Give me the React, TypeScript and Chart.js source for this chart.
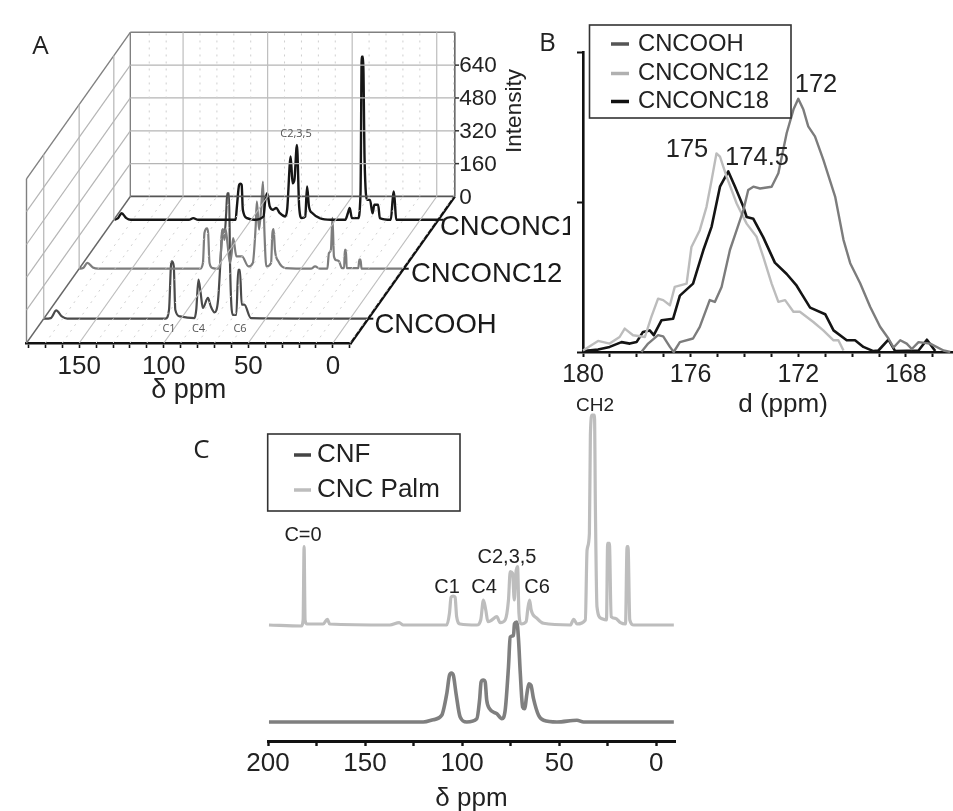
import React, { useEffect, useRef } from "react";
import { Chart, registerables } from "chart.js";
Chart.register(...registerables);

const FONT = "'Liberation Sans', Arial, sans-serif";
const PANEL_FONT = "'Open Sans', sans-serif";

// ---------- Panel A ----------
const aMajorPpm = [150, 100, 50, 0];
const aMinorPpm = [170, 160, 140, 130, 120, 110, 90, 80, 70, 60, 40, 30, 20, 10, -10];
const aIntensityTicks = [0, 160, 320, 480, 640];
const aCooh = [[181.3,0],[177,3],[173.8,40],[170.5,11],[167.3,0],[109.2,0],[107.1,44],[106,255],[105.4,279],[104.3,255],[103.4,44],[100.6,11],[92,3],[91,44],[89.7,190],[88.4,125],[87.1,52],[84.1,101],[82.4,60],[80.2,31],[78.1,92],[76.3,336],[75.5,433],[74.2,417],[73.3,514],[72.7,611],[71.6,611],[71,255],[69.5,19],[67.3,19],[66.2,238],[65.2,238],[64.1,68],[62.6,68],[58.7,3],[-10,0]];
const aC12 = [[181,0],[178.9,3],[176.3,28],[173.1,6],[169.9,0],[109.7,0],[108,28],[107.1,174],[105.6,197],[104.9,174],[104.1,28],[102.2,3],[98.9,0],[97.6,44],[96.8,174],[96.1,193],[95.3,141],[94.6,193],[93.5,125],[92,28],[91,76],[90.1,149],[88.2,60],[84.9,60],[81.1,11],[78.5,28],[76.8,206],[76.1,328],[74.8,190],[73.5,303],[72.5,425],[71.6,174],[70.5,11],[67.7,28],[66.9,174],[66.2,193],[65.4,92],[63.4,36],[59.1,3],[44.1,0],[41.7,11],[38.7,0],[34.4,0],[33.5,76],[32.3,92],[31.4,248],[30.5,60],[29,41],[27.5,36],[25.8,3],[24.5,3],[24.1,92],[23.4,92],[23,3],[16.1,3],[15.5,44],[14.8,44],[14.2,0],[-9.9,0]];
const aC18 = [[180.9,0],[178.7,8],[176.6,32],[173.8,8],[171.2,0],[136.8,0],[134.2,8],[131.4,0],[109.2,0],[108.4,65],[107.1,170],[106.3,176],[105.6,170],[104.9,49],[102.4,8],[98.1,0],[92.7,16],[91.6,97],[90.5,130],[89,65],[87.3,49],[85.2,57],[83,32],[79.8,16],[78.7,49],[76.6,308],[75.5,178],[74.4,195],[72.9,365],[71.6,65],[70.1,8],[68,16],[66.9,162],[65.8,65],[63.7,32],[59.4,8],[52.9,0],[44.3,0],[42.8,32],[41.7,57],[40.4,8],[36.8,8],[35.3,130],[34.6,795],[33.8,795],[32.9,292],[31.4,97],[29.7,97],[28.2,32],[27.1,73],[24.9,73],[23.9,8],[17.4,0],[16.3,97],[15.7,138],[15.1,97],[14.2,0],[-10.5,0]];
const aSeriesNames = ["CNCOOH", "CNCONC12", "CNCONC1"];

// ---------- Panel B ----------
const bXTicks = [180, 176, 172, 168];
const bCooh = [[177.83,0],[177.58,2.8],[177.21,5.6],[177.02,5.2],[176.77,1.7],[176.63,0],[176.4,3.3],[175.91,4.5],[175.66,8.4],[175.29,17.3],[175.1,16.7],[174.85,21.7],[174.54,34],[174.29,40.6],[174.04,47.3],[173.86,54],[173.67,55.1],[173.42,54.5],[172.99,55.1],[172.74,59.6],[172.43,73],[172.18,80.8],[172,84.4],[171.81,80.8],[171.63,75.2],[171.38,71.9],[171.07,64.1],[170.63,51.8],[170.32,37.4],[170.07,29.6],[169.7,22.9],[169.33,15.1],[168.96,8.4],[168.65,4.5],[168.46,1.5],[168.21,3.9],[167.97,2.8],[167.78,1],[167.53,3.3],[167.1,2.8],[166.6,0.5],[166.35,0]];
const bC12 = [[180,0.5],[179.44,3.7],[179.01,2.8],[178.64,5],[178.45,7.8],[178.14,5.6],[177.7,5],[177.46,11.7],[177.21,17.8],[177.02,17.3],[176.77,15.6],[176.59,21.7],[176.15,22.8],[175.97,35],[175.66,40.6],[175.41,48.4],[175.22,57.3],[175.04,66.2],[174.91,65.1],[174.66,58.4],[174.29,49.5],[173.92,42.8],[173.55,38.4],[173.3,31.7],[172.99,22.8],[172.74,16.7],[172.49,17.3],[172.18,13.4],[171.94,13.4],[171.44,10],[171.07,7.2],[170.69,3.9],[170.51,3.9],[170.32,0.5]];
const bC18 = [[180,0.3],[179.44,0.8],[179.01,1.7],[178.57,3.3],[178.26,2.8],[178.01,3.3],[177.77,6.7],[177.52,7.2],[177.37,5.6],[177.08,10.6],[176.65,11.1],[176.4,18.8],[175.91,22.8],[175.53,33.9],[175.22,41.8],[174.91,55.1],[174.6,60.2],[174.35,55.1],[174.04,48.4],[173.92,45],[173.67,44.4],[173.3,38.2],[172.87,29.8],[172.43,26],[172.06,22.1],[171.87,19.3],[171.56,14.8],[171,12.6],[170.69,7.2],[170.2,3.9],[169.89,3.9],[169.58,1.7],[169.21,0.3],[169.02,0.5],[168.65,4.1],[168.4,0.3],[167.53,0.5],[167.22,4.1],[166.91,0.3]];
const bLegend = ["CNCOOH", "CNCONC12", "CNCONC18"];

// ---------- Panel C ----------
const cCnf = [[199.5,0],[120,0],[114.8,2.3],[110.5,6.7],[107.9,28.3],[106.5,46.7],[105.5,49],[104.5,46.7],[103.1,28.3],[101,5],[97.6,0],[92.4,3.3],[91,21.7],[90.2,40],[89.1,42],[88.1,40],[87.3,21.7],[85.9,13.3],[82.1,8.3],[79.5,3.3],[77.8,11.7],[76.1,55],[75.2,85],[73.5,86.7],[73,98.3],[71.8,100],[70.9,81.7],[70,48.3],[68.8,15],[67.8,13.3],[66.6,28.3],[65.6,38.3],[64.5,36.7],[63.2,23.3],[60.6,6.7],[58,1.7],[51.1,0],[40.8,1.7],[37.4,0],[-9.1,0]];
const cPalm = [[199.5,0],[182.8,-1],[181.9,5],[181.4,78.3],[180.9,5],[179.9,1],[171.6,1],[169.4,5.7],[168.2,1],[137.2,0],[132.4,2.3],[130.3,0],[107.9,0],[106.5,11.7],[105.7,27.7],[104.6,29],[103.6,27.7],[102.8,8.3],[101,1],[92.4,0],[90.4,5],[89,25],[87.8,15],[86.7,3.3],[84.7,5],[82.1,8.3],[80.4,2.3],[77.8,5],[76.1,25],[75.2,53.3],[74,51.7],[73.1,25],[72.3,51.7],[71.4,58.3],[70.7,11.7],[69.5,1],[67,3.3],[66.1,16.7],[65.2,25],[64.4,15],[61.4,6.7],[58,1.7],[44.2,0],[42.5,5.7],[40.8,1],[36.5,5],[35.6,75],[34.4,91.7],[33.9,190],[33,210],[31.8,210],[31.3,115],[30.5,18.3],[28.4,6.7],[25.6,5],[25,81.7],[24.1,81.7],[23.2,8.3],[21,6.7],[18.4,2.3],[15.8,1],[15,78.3],[14.5,78.3],[13.6,5],[11.5,0],[-9.1,0]];
const cLegend = ["CNF", "CNC Palm"];
const cXTicks = [200, 150, 100, 50, 0];

// Depth placement of the waterfall panel
const DEPTH_PPM = 61.4;
const DEPTH_INT = 714;
const A_LEFT = 181.2, A_RIGHT = -10.7, A_TOP = 800;
const DEPTHS = [0.166, 0.507, 0.841];
const PALM_OFFSET = 97;

const proj = (ppm: number, d: number, i: number) => ({ x: ppm - DEPTH_PPM * d, y: i + DEPTH_INT * d });
const seg = (a: any, b: any) => {
  const [p, q] = a.x >= b.x ? [a, b] : [b, a];
  return [p, { x: q.x === p.x ? q.x - 1e-6 : q.x, y: q.y }];
};
const lineDs = (data: any[], color: string, width: number, dash?: number[], smooth?: boolean) => ({
  data, borderColor: color, borderWidth: width, borderDash: dash || [], pointRadius: 0, tension: 0, clip: false as any,
  borderJoinStyle: "round" as any,
  cubicInterpolationMode: smooth ? ("monotone" as any) : ("default" as any),
});
const pairs = (arr: number[][]) => arr.map(([x, y]) => ({ x, y }));

function txt(ctx: any, s: string, x: number, y: number, font: string, color = "#222", align = "center", rot = 0) {
  ctx.save();
  ctx.translate(x, y);
  if (rot) ctx.rotate(rot);
  ctx.font = font;
  ctx.fillStyle = color;
  ctx.textAlign = align;
  ctx.textBaseline = "middle";
  ctx.fillText(s, 0, 0);
  ctx.restore();
}
function legendBox(ctx: any, x0: number, y0: number, w: number, h: number) {
  ctx.save();
  ctx.fillStyle = "#fff";
  ctx.strokeStyle = "#333";
  ctx.lineWidth = 1.6;
  ctx.fillRect(x0, y0, w, h);
  ctx.strokeRect(x0, y0, w, h);
  ctx.restore();
}
function sample(ctx: any, x0: number, x1: number, y: number, color: string) {
  ctx.save();
  ctx.strokeStyle = color;
  ctx.lineWidth = 3.5;
  ctx.beginPath();
  ctx.moveTo(x0, y);
  ctx.lineTo(x1, y);
  ctx.stroke();
  ctx.restore();
}

function buildA(canvas: HTMLCanvasElement) {
  const grid: any[] = [];
  aMinorPpm.forEach((p) => {
    grid.push(lineDs(seg(proj(p, 0, 0), proj(p, 1, 0)), "#cfcfcf", 1, [2, 5]));
    grid.push(lineDs(seg(proj(p, 1, 0), proj(p, 1, A_TOP)), "#cfcfcf", 1, [2, 5]));
  });
  aMajorPpm.forEach((p) => {
    grid.push(lineDs(seg(proj(p, 0, 0), proj(p, 1, 0)), "#bdbdbd", 1.2));
    grid.push(lineDs(seg(proj(p, 1, 0), proj(p, 1, A_TOP)), "#bdbdbd", 1.2));
  });
  aIntensityTicks.slice(1).forEach((i) => {
    grid.push(lineDs(seg(proj(A_LEFT, 1, i), proj(A_RIGHT, 1, i)), "#b5b5b5", 1.2));
    grid.push(lineDs(seg(proj(A_LEFT, 0, i), proj(A_LEFT, 1, i)), "#b5b5b5", 1.2));
    grid.push(lineDs(seg(proj(A_RIGHT, 1, i), proj(A_RIGHT - 2.5, 1, i)), "#333", 1.5));
  });
  DEPTHS.forEach((d) => {
    grid.push(lineDs(seg(proj(A_LEFT, d, 0), proj(A_LEFT, d, A_TOP)), "#b5b5b5", 1.2));
    grid.push(lineDs(seg(proj(A_RIGHT, d, 0), proj(A_RIGHT - 3, d, 0)), "#111", 2));
  });
  const frame = [
    lineDs(seg(proj(A_LEFT, 1, A_TOP), proj(A_RIGHT, 1, A_TOP)), "#808080", 1.6),
    lineDs(seg(proj(A_LEFT, 1, 0), proj(A_LEFT, 1, A_TOP)), "#808080", 1.4),
    lineDs(seg(proj(A_RIGHT, 1, 0), proj(A_RIGHT, 1, A_TOP)), "#666", 1.6),
    lineDs(seg(proj(A_LEFT, 0, 0), proj(A_LEFT, 0, A_TOP)), "#808080", 1.4),
    lineDs(seg(proj(A_LEFT, 0, A_TOP), proj(A_LEFT, 1, A_TOP)), "#808080", 1.4),
    lineDs(seg(proj(A_LEFT, 0, 0), proj(A_LEFT, 1, 0)), "#666", 1.4),
    lineDs(seg(proj(A_LEFT, 1, 0), proj(A_RIGHT, 1, 0)), "#555", 1.8),
    lineDs(seg(proj(A_RIGHT, 0, 0), proj(A_RIGHT, 1, 0)), "#111", 2.4),
  ];
  const series = [
    lineDs(aC18.map(([p, i]) => proj(p, DEPTHS[2], i)), "#161616", 2.4, [], true),
    lineDs(aC12.map(([p, i]) => proj(p, DEPTHS[1], i)), "#7d7d7d", 2.2, [], true),
    lineDs(aCooh.map(([p, i]) => proj(p, DEPTHS[0], i)), "#4a4a4a", 2.2, [], true),
  ];
  return new Chart(canvas, {
    type: "line",
    data: { datasets: [...grid, ...frame, ...series] as any },
    options: {
      responsive: false,
      animation: false,
      devicePixelRatio: 1,
      layout: { padding: { left: 26.5, right: 219, top: 32.3, bottom: 0 } },
      plugins: { legend: { display: false }, tooltip: { enabled: false } },
      scales: {
        x: {
          type: "linear", reverse: true, min: A_RIGHT, max: A_LEFT,
          afterFit: (s: any) => { s.height = 67; },
          border: { color: "#111", width: 2.6 },
          grid: { drawOnChartArea: false, color: "#111", tickLength: 5, tickWidth: 1.6 },
          ticks: { stepSize: 10, includeBounds: false, autoSkip: false, maxRotation: 0, padding: 3, color: "#222",
            font: { family: FONT, size: 26 },
            callback: (v: any) => (aMajorPpm.includes(v) ? String(v) : "") },
          title: { display: true, text: "δ ppm", color: "#222", font: { family: FONT, size: 27 }, padding: { top: 0, bottom: 3 } },
        } as any,
        y: { type: "linear", display: false, min: 0, max: A_TOP + DEPTH_INT },
      },
    },
    plugins: [{
      id: "aText",
      afterDraw(c: any) {
        const ctx = c.ctx, sx = c.scales.x, sy = c.scales.y;
        const at = (p: number, d: number, i: number) => { const q = proj(p, d, i); return [sx.getPixelForValue(q.x), sy.getPixelForValue(q.y)]; };
        aIntensityTicks.forEach((i) => {
          const [x, y] = at(A_RIGHT, 1, i);
          txt(ctx, String(i), x + 4.5, y + 1, `22.5px ${FONT}`, "#222", "left");
        });
        txt(ctx, "Intensity", 514.5, 111, `22.5px ${FONT}`, "#222", "center", -Math.PI / 2);
        const labelX = [374.5, 411, 440];
        const labelDy = [7, 6, 8];
        aSeriesNames.forEach((n, k) => {
          const [, y] = at(A_RIGHT, DEPTHS[k], 0);
          txt(ctx, n, labelX[k], y + labelDy[k], `27.5px ${FONT}`, "#1a1a1a", "left");
        });
        const small = `11px 'Open Sans', sans-serif`;
        txt(ctx, "C1", 169, 329, small, "#555");
        txt(ctx, "C4", 198.5, 329, small, "#555");
        txt(ctx, "C6", 240, 329, small, "#555");
        txt(ctx, "C2,3,5", 296, 134, small, "#555");
        txt(ctx, "A", 40.5, 47, `26px ${PANEL_FONT}`, "#222");
      },
    }],
  } as any);
}

function buildB(canvas: HTMLCanvasElement) {
  return new Chart(canvas, {
    type: "line",
    data: { datasets: [
      lineDs(pairs(bCooh), "#7c7c7c", 2.4),
      lineDs(pairs(bC12), "#bcbcbc", 2.4),
      lineDs(pairs(bC18), "#141414", 2.6),
    ] as any },
    options: {
      responsive: false,
      animation: false,
      devicePixelRatio: 1,
      layout: { padding: { left: 0, right: 0, top: 52, bottom: 0 } },
      plugins: { legend: { display: false }, tooltip: { enabled: false } },
      scales: {
        x: {
          type: "linear", reverse: true, min: 166.25, max: 180,
          afterFit: (s: any) => { s.height = 68; },
          border: { color: "#111", width: 2.6 },
          grid: { drawOnChartArea: false, color: "#111", tickLength: 5, tickWidth: 2 },
          ticks: { stepSize: 1, includeBounds: false, autoSkip: false, maxRotation: 0, padding: 3, color: "#222",
            font: { family: FONT, size: 25 },
            callback: (v: any) => (bXTicks.includes(v) ? String(v) : "") },
        } as any,
        y: {
          type: "linear", min: 0, max: 100,
          afterFit: (s: any) => { s.width = 53; },
          border: { color: "#111", width: 2.6 },
          grid: { drawOnChartArea: false, color: "#111", tickLength: 6, tickWidth: 2 },
          ticks: { stepSize: 50, padding: 0, callback: () => "" },
        } as any,
      },
    },
    plugins: [{
      id: "bText",
      afterDraw(c: any) {
        const ctx = c.ctx;
        legendBox(ctx, 59.5, 25, 201.5, 93);
        const colors = ["#555555", "#b0b0b0", "#111111"];
        const ys = [44, 73.5, 101.5];
        bLegend.forEach((n, k) => {
          sample(ctx, 81, 99, ys[k], colors[k]);
          txt(ctx, n, 108, ys[k], `23.8px ${FONT}`, "#222", "left");
        });
        const f = `25.5px ${FONT}`;
        txt(ctx, "172", 286, 85, f);
        txt(ctx, "175", 157, 150, f);
        txt(ctx, "174.5", 227, 158, f);
        txt(ctx, "d (ppm)", 253, 405, `26px ${FONT}`);
        txt(ctx, "B", 17.5, 44, `26px ${PANEL_FONT}`);
      },
    }],
  } as any);
}

function buildC(canvas: HTMLCanvasElement) {
  return new Chart(canvas, {
    type: "line",
    data: { datasets: [
      lineDs(cPalm.map(([x, y]) => ({ x, y: y + PALM_OFFSET })), "#bdbdbd", 3.2, [], true),
      lineDs(pairs(cCnf), "#7f7f7f", 3.6, [], true),
    ] as any },
    options: {
      responsive: false,
      animation: false,
      devicePixelRatio: 1,
      layout: { padding: { left: 78, right: 15, top: 10, bottom: 0 } },
      plugins: { legend: { display: false }, tooltip: { enabled: false } },
      scales: {
        x: {
          type: "linear", reverse: true, min: -9.7, max: 200,
          afterFit: (s: any) => { s.height = 70; },
          border: { color: "#111", width: 3 },
          grid: { drawOnChartArea: false, color: "#111", tickLength: 5, tickWidth: 2.4 },
          ticks: { stepSize: 25, includeBounds: false, autoSkip: false, maxRotation: 0, padding: 2, color: "#222",
            font: { family: FONT, size: 26 },
            callback: (v: any) => (cXTicks.includes(v) ? String(v) : "") },
          title: { display: true, text: "δ ppm", color: "#222", font: { family: FONT, size: 26 }, padding: { top: 0, bottom: -3 } },
        } as any,
        y: { type: "linear", display: false, min: -19, max: 322 },
      },
    },
    plugins: [{
      id: "cText",
      afterDraw(c: any) {
        const ctx = c.ctx;
        legendBox(ctx, 77.7, 44, 192.3, 77);
        const colors = ["#444444", "#bdbdbd"];
        const ys = [65, 100];
        cLegend.forEach((n, k) => {
          sample(ctx, 104, 121, ys[k], colors[k]);
          txt(ctx, n, 127, ys[k], `26px ${FONT}`, "#222", "left");
        });
        const f = `20px ${FONT}`;
        txt(ctx, "C=0", 113, 145, f);
        txt(ctx, "C1", 257, 197, f);
        txt(ctx, "C4", 294, 197, f);
        txt(ctx, "C6", 347, 197, f);
        txt(ctx, "C2,3,5", 317, 167, f);
        txt(ctx, "CH2", 405, 16, `19px ${FONT}`);
        txt(ctx, "C", 11.5, 61, `26px ${PANEL_FONT}`);
      },
    }],
  } as any);
}

function Panel({ build, left, top, width, height }: any) {
  const ref = useRef<HTMLCanvasElement>(null);
  useEffect(() => {
    const chart = build(ref.current!);
    return () => chart.destroy();
  }, [build]);
  return (
    <canvas
      ref={ref}
      width={width}
      height={height}
      style={{ position: "absolute", left, top, width, height, filter: "blur(0.6px)" }}
    />
  );
}

export default function App() {
  return (
    <div style={{ position: "absolute", left: 0, top: 0, width: 953, height: 811, overflow: "hidden", background: "#fff" }}>
      <Panel build={buildA} left={0} top={0} width={570} height={410} />
      <Panel build={buildB} left={530} top={0} width={423} height={420} />
      <Panel build={buildC} left={190} top={390} width={500} height={421} />
    </div>
  );
}
